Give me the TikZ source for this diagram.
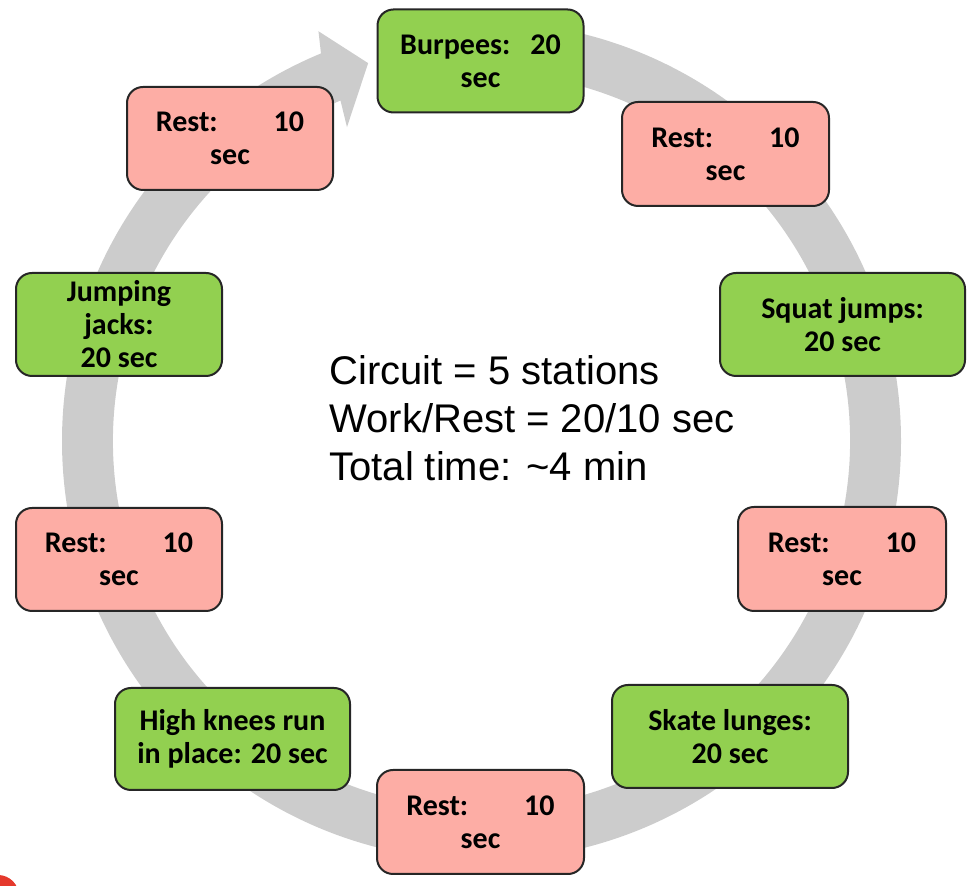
\documentclass[tikz,border=0pt]{standalone}
\usepackage{fontspec}
\setmainfont{Liberation Sans}
\newfontfamily\carlito{Carlito}
\definecolor{workgreen}{HTML}{92D050}
\definecolor{restred}{HTML}{FDADA5}
\definecolor{ringgray}{HTML}{CCCCCC}
\definecolor{boxline}{HTML}{262626}
\definecolor{blobred}{HTML}{E5392C}
\begin{document}
\begin{tikzpicture}[x=0.5pt,y=0.5pt,
  box/.style={draw=boxline, line width=1pt, rounded corners=8pt, align=center,
    inner sep=2pt, font=\carlito\bfseries\fontsize{15pt}{16.5pt}\selectfont,
    minimum width=103pt, minimum height=51.5pt},
  work/.style={box, fill=workgreen},
  rest/.style={box, fill=restred},
  info/.style={align=left, inner sep=0pt, font=\fontsize{20pt}{24pt}\selectfont}]
\useasboundingbox (0,0) rectangle (972,886);
\coordinate (C) at (481.5,445);
% circular arrow ring
\fill[ringgray] ([shift={(C)}]90:419.5) arc[start angle=90, end angle=-247.5, radius=419.5]
  -- ([shift={(C)}]-248.3:441) -- ([shift={(C)}]-253.3:394.5) -- ([shift={(C)}]-246.8:341.5)
  -- ([shift={(C)}]-247.5:368.5) arc[start angle=-247.5, end angle=90, radius=368.5] -- cycle;
% boxes
\node[work] (burpees) at (480.5,825) {Burpees:\hspace{10pt}20\\sec};
\node[rest, minimum width=103.5pt, minimum height=52pt] (rest1) at (725.5,732) {Rest:\hspace{28pt}10\\sec};
\node[work, minimum width=122.5pt] (squat) at (842.5,561.5) {Squat jumps:\\20 sec};
\node[rest, minimum width=104pt, minimum height=52pt] (rest2) at (842,327) {Rest:\hspace{28pt}10\\sec};
\node[work, minimum width=118pt] (skate) at (730,149.5) {Skate lunges:\\20 sec};
\node[rest, minimum width=103.5pt, minimum height=52pt] (rest3) at (480.5,64) {Rest:\hspace{28pt}10\\sec};
\node[work, minimum width=117.5pt, minimum height=51pt] (knees) at (232.5,147) {High knees run\\in place: 20 sec};
\node[rest] (rest4) at (119,326.5) {Rest:\hspace{28pt}10\\sec};
\node[work] (jacks) at (119,561.5) {Jumping\\jacks:\\20 sec};
\node[rest] (rest5) at (230,747.5) {Rest:\hspace{28pt}10\\sec};
% centre text
\node[info, anchor=north west] (summary) at (329,531) {Circuit = 5 stations\\Work/Rest = 20/10 sec\\Total time: \textasciitilde4 min};
% corner blob
\begin{scope}
\clip (0,0) rectangle (972,886);
\fill[blobred] (-2,-10) circle[radius=21];
\end{scope}
\end{tikzpicture}
\end{document}
